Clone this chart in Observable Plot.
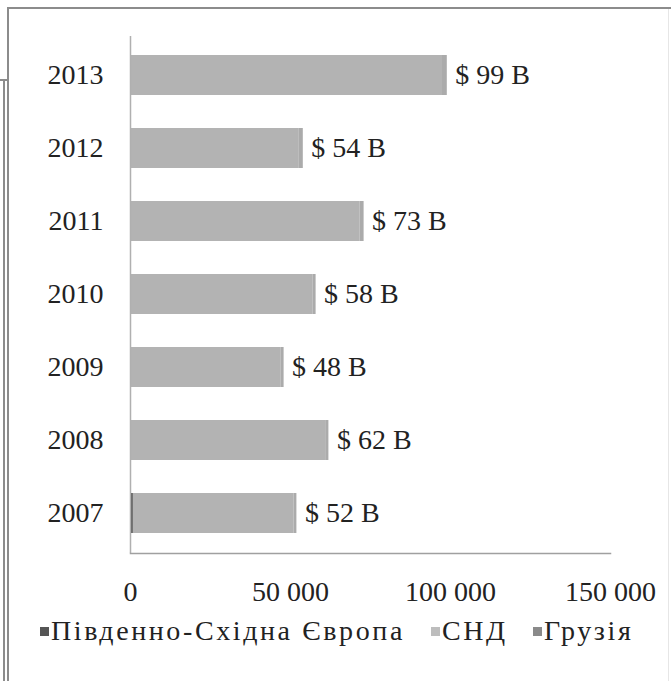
<!DOCTYPE html>
<html>
<head>
<meta charset="utf-8">
<script src="https://cdn.jsdelivr.net/npm/d3@7"></script>
<script src="https://cdn.jsdelivr.net/npm/@observablehq/plot@0.6"></script>
<style>
  html, body { margin: 0; padding: 0; background: #fff; }
  body { width: 671px; height: 681px; overflow: hidden; position: relative; font-family: "Liberation Serif", "Times New Roman", serif; }
  #chart { position: absolute; left: 0; top: 0; }
  .ln { position: absolute; background: #8c8c8c; }
  #legend { position: absolute; left: 0; top: 615px; width: 671px; height: 36px; font-size: 28px; color: #222; letter-spacing: 2.6px; }
  #legend .it { position: absolute; top: 0; display: flex; align-items: center; white-space: nowrap; }
  #legend .sw { width: 9px; height: 9px; margin-right: 2px; display: inline-block; }
</style>
</head>
<body>
<div id="chart"></div>
<div id="legend"></div>
<div class="ln" style="left:7px;top:7px;width:664px;height:2px;"></div>
<div class="ln" style="left:7px;top:7px;width:2px;height:674px;"></div>
<div class="ln" style="left:0px;top:79px;width:7px;height:2px;"></div>
<div class="ln" style="left:3px;top:79px;width:2px;height:602px;"></div>
<div class="ln" style="left:668px;top:9px;width:1px;height:672px;background:#e6e6e6;"></div>
<script>
const years = ["2007", "2008", "2009", "2010", "2011", "2012", "2013"];
const seriesNames = ["Південно-Східна Європа", "СНД", "Грузія"];
const seEurope = [900, 300, 300, 300, 300, 300, 300];
const cis = [50200, 60700, 46800, 56700, 71400, 52300, 97200];
const georgia = [900, 1000, 900, 1000, 1300, 1400, 1500];
const totals = [52000, 62000, 48000, 58000, 73000, 54000, 99000];
const totalLabels = ["$ 52 B", "$ 62 B", "$ 48 B", "$ 58 B", "$ 73 B", "$ 54 B", "$ 99 B"];
const xTicks = [0, 50000, 100000, 150000];
const colors = ["#5a5a5a", "#b3b3b3", "#ababab"];
const legendColors = ["#555555", "#bdbdbd", "#8a8a8a"];
const legendLeft = [40, 431, 533];

const seriesValues = [seEurope, cis, georgia];
const rows = [];
seriesNames.forEach((s, i) => years.forEach((y, j) => rows.push({year: y, series: s, value: seriesValues[i][j]})));
const labels = years.map((y, j) => ({year: y, total: totals[j], label: totalLabels[j]}));

const fmt = d => d3.format(",")(d).replace(/,/g, " ");
const FONT = "'Liberation Serif', 'Times New Roman', serif";

const chart = Plot.plot({
  width: 671,
  height: 612,
  marginLeft: 130,
  marginRight: 61,
  marginTop: 36,
  marginBottom: 59,
  style: { fontFamily: FONT, fontSize: "28px", color: "#222", background: "transparent" },
  x: { domain: [0, 150000], ticks: xTicks, tickFormat: fmt, label: null },
  y: { domain: years.slice().reverse(), paddingInner: 0.45, paddingOuter: 0.22, label: null },
  color: { domain: seriesNames, range: colors },
  marks: [
    Plot.barX(rows, { x: "value", y: "year", fill: "series" }),
    Plot.ruleX([0], { stroke: "#b0b0b0", strokeWidth: 1.5 }),
    Plot.frame({ anchor: "bottom", stroke: "#a0a0a0", strokeWidth: 1.5 }),
    Plot.text(labels, { x: "total", y: "year", text: "label", textAnchor: "start", dx: 8, fill: "#222", fontSize: 28, fontFamily: FONT }),
    Plot.axisX({ ticks: xTicks, tickFormat: fmt, tickSize: 0, tickPadding: 28, fontSize: 28, fontFamily: FONT, label: null }),
    Plot.axisY({ tickSize: 0, tickPadding: 27, fontSize: 28, fontFamily: FONT, label: null })
  ]
});
document.getElementById("chart").appendChild(chart);

const legend = document.getElementById("legend");
seriesNames.forEach((s, i) => {
  const it = document.createElement("span");
  it.className = "it";
  it.style.left = legendLeft[i] + "px";
  const sw = document.createElement("span");
  sw.className = "sw";
  sw.style.background = legendColors[i];
  it.appendChild(sw);
  it.appendChild(document.createTextNode(s));
  legend.appendChild(it);
});
</script>
</body>
</html>
